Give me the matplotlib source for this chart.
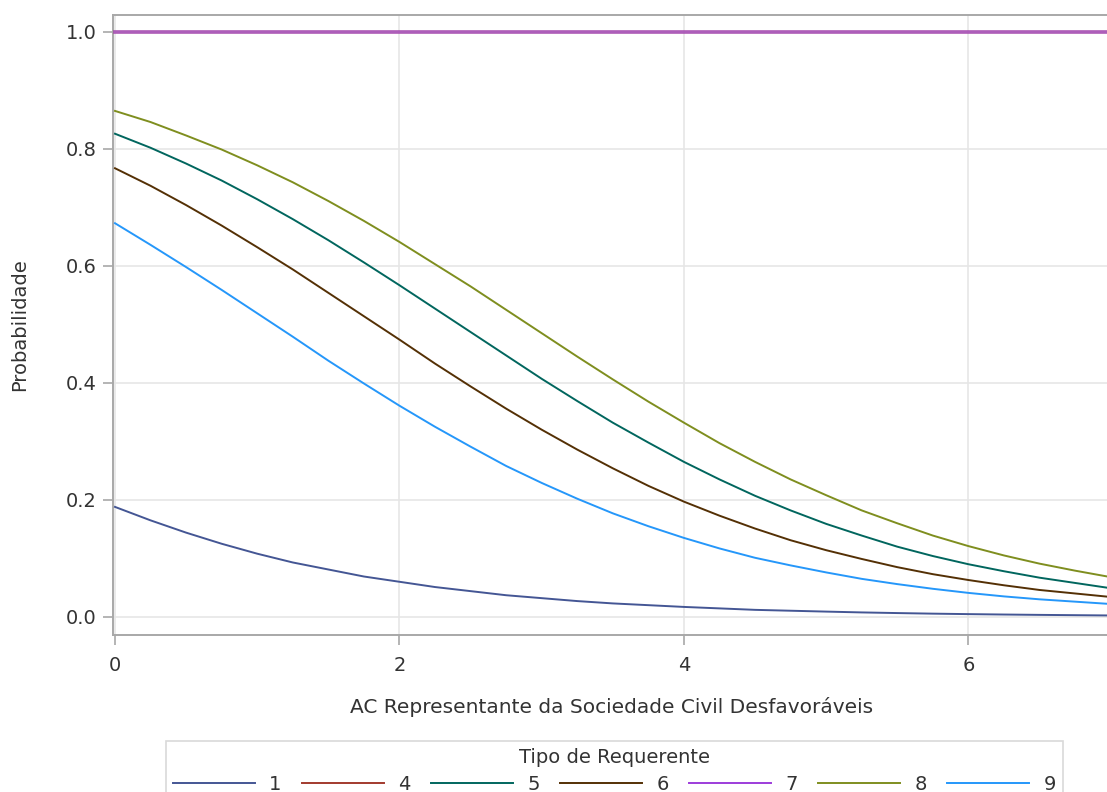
import matplotlib
matplotlib.use("Agg")
import matplotlib.pyplot as plt

plt.rcParams['font.family'] = ['DejaVu Sans']

x_vals = [0, 0.25, 0.5, 0.75, 1, 1.25, 1.5, 1.75, 2, 2.25, 2.5, 2.75, 3, 3.25, 3.5,
          3.75, 4, 4.25, 4.5, 4.75, 5, 5.25, 5.5, 5.75, 6, 6.25, 6.5, 6.75, 7]

series_labels = ["1", "4", "5", "6", "7", "8", "9"]
series_colors = ["#445694", "#A23A2E", "#01665E", "#543005", "#9D3CDB", "#7F8E1F", "#2597FA"]

y_1 = [0.188, 0.165, 0.144, 0.125, 0.108, 0.093, 0.081, 0.069, 0.060, 0.051, 0.044, 0.037, 0.032,
       0.027, 0.023, 0.020, 0.017, 0.0145, 0.012, 0.0105, 0.009, 0.0076, 0.0065, 0.0055, 0.0047,
       0.0040, 0.0034, 0.0029, 0.0024]
y_4 = [1.0] * 29
y_5 = [0.826, 0.802, 0.775, 0.746, 0.714, 0.680, 0.644, 0.606, 0.567, 0.527, 0.487, 0.447, 0.407,
       0.369, 0.332, 0.298, 0.265, 0.235, 0.207, 0.182, 0.159, 0.139, 0.120, 0.104, 0.090, 0.078,
       0.067, 0.058, 0.049]
y_6 = [0.767, 0.737, 0.704, 0.669, 0.632, 0.594, 0.554, 0.514, 0.474, 0.433, 0.394, 0.356, 0.320,
       0.286, 0.254, 0.224, 0.197, 0.173, 0.151, 0.131, 0.114, 0.099, 0.085, 0.073, 0.063, 0.054,
       0.046, 0.040, 0.034]
y_7 = [1.0] * 29
y_8 = [0.865, 0.846, 0.823, 0.799, 0.772, 0.743, 0.711, 0.677, 0.641, 0.603, 0.565, 0.525, 0.485,
       0.445, 0.406, 0.368, 0.332, 0.297, 0.265, 0.235, 0.208, 0.182, 0.160, 0.139, 0.121, 0.105,
       0.091, 0.079, 0.068]
y_9 = [0.673, 0.636, 0.598, 0.559, 0.519, 0.479, 0.438, 0.399, 0.361, 0.325, 0.291, 0.258, 0.229,
       0.202, 0.177, 0.155, 0.135, 0.117, 0.101, 0.088, 0.076, 0.065, 0.056, 0.048, 0.041, 0.035,
       0.030, 0.026, 0.022]

series_values = [y_1, y_4, y_5, y_6, y_7, y_8, y_9]

x_ticks = [0, 2, 4, 6]
y_ticks = [0.0, 0.2, 0.4, 0.6, 0.8, 1.0]

FS = 14
TXT = "#333333"

fig = plt.figure(figsize=(11.07, 7.92), dpi=100)
ax = fig.add_axes([113/1107, 1 - 635/792, 1 - 113/1107 + 0.002, (635 - 15)/792])

for lab, col, vals in zip(series_labels, series_colors, series_values):
    if lab == "4":
        ax.plot(x_vals, vals, color=col, lw=2.6, alpha=0.5, label=lab, zorder=3)
    elif lab == "7":
        ax.plot(x_vals, vals, color=col, lw=2.6, alpha=0.6, label=lab, zorder=4)
    else:
        ax.plot(x_vals, vals, color=col, lw=1.4, label=lab, zorder=3)

ax.set_xlim(-0.014, 6.99)
ax.set_ylim(-0.031, 1.029)
ax.set_xticks(x_ticks)
ax.set_xticklabels([str(t) for t in x_ticks])
ax.set_yticks(y_ticks)
ax.set_yticklabels([f"{t:.1f}" for t in y_ticks])

ax.grid(True, color="#e6e6e6", lw=1.2)
ax.set_axisbelow(True)
for s in ax.spines.values():
    s.set_color("#a8a8a8")
    s.set_linewidth(1.4)
ax.spines['right'].set_visible(False)
ax.tick_params(axis='both', colors="#a8a8a8", length=7, width=1.2, labelsize=FS, labelcolor=TXT)
ax.tick_params(axis='x', pad=8)
ax.tick_params(axis='y', pad=5)

ax.set_xlabel("AC Representante da Sociedade Civil Desfavoráveis", fontsize=14.5, color=TXT, labelpad=16)
ax.set_ylabel("Probabilidade", fontsize=FS, color=TXT, labelpad=26)

handles, labels = ax.get_legend_handles_labels()
leg = fig.legend(handles, labels, loc="upper center", bbox_to_anchor=(614.5/1107, 1 - 741/792),
                 ncol=7, title="Tipo de Requerente", fontsize=FS, title_fontsize=FS,
                 frameon=True, fancybox=False, handlelength=4.2, handletextpad=0.75,
                 columnspacing=1.05, borderpad=0.35, labelspacing=0.15, borderaxespad=0)
leg.get_frame().set_edgecolor("#d0d0d0")
leg.get_frame().set_linewidth(1.2)
leg._legend_box.sep = 6
for t in leg.get_texts():
    t.set_color(TXT)
leg.get_title().set_color(TXT)
for h in leg.legend_handles:
    h.set_linewidth(1.4)
    h.set_alpha(1.0)

fig.savefig("out.png", dpi=100)
